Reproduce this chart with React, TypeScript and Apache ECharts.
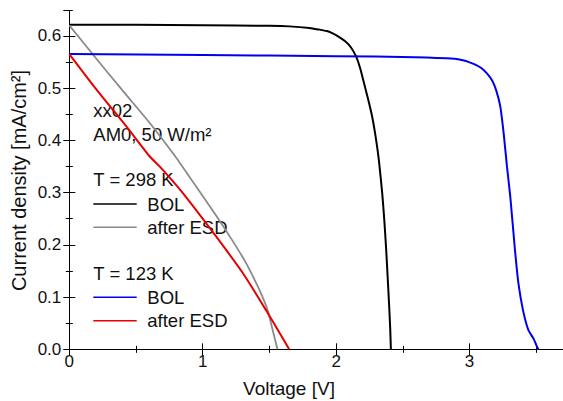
import React, { useEffect, useRef } from "react";
import * as echarts from "echarts";

// T = 298 K, BOL
const voltage298BOL = [0, 0.5, 1.0, 1.5, 1.65, 1.8, 1.87, 1.93, 1.97, 2.02, 2.07, 2.11, 2.15, 2.18, 2.21, 2.24, 2.27, 2.3, 2.32, 2.345, 2.36, 2.375, 2.395, 2.405, 2.41];
const current298BOL = [0.621, 0.621, 0.620, 0.619, 0.618, 0.615, 0.612, 0.609, 0.605, 0.598, 0.589, 0.578, 0.560, 0.538, 0.508, 0.478, 0.445, 0.400, 0.362, 0.299, 0.250, 0.190, 0.094, 0.040, 0.0];

// T = 298 K, after ESD
const voltage298ESD = [0, 0.2, 0.4, 0.6, 0.8, 0.93, 1.1, 1.225, 1.325, 1.424, 1.486, 1.524, 1.56];
const current298ESD = [0.620, 0.557, 0.495, 0.434, 0.367, 0.319, 0.256, 0.207, 0.165, 0.114, 0.075, 0.037, 0.0];

// T = 123 K, BOL
const voltage123BOL = [0, 1.0, 2.0, 2.59, 2.89, 2.95, 3.0, 3.05, 3.09, 3.13, 3.17, 3.20, 3.23, 3.255, 3.28, 3.305, 3.34, 3.366, 3.40, 3.44, 3.48, 3.50, 3.515];
const current123BOL = [0.565, 0.563, 0.561, 0.559, 0.556, 0.553, 0.549, 0.544, 0.538, 0.528, 0.514, 0.495, 0.465, 0.414, 0.350, 0.292, 0.190, 0.126, 0.075, 0.037, 0.020, 0.008, 0.0];

// T = 123 K, after ESD
const voltage123ESD = [0, 0.204, 0.429, 0.603, 0.677, 0.851, 1.10, 1.30, 1.474, 1.648];
const current123ESD = [0.565, 0.497, 0.426, 0.369, 0.350, 0.299, 0.216, 0.146, 0.075, 0.0];

const xTickLabels = ["0", "1", "2", "3"];
const yTickLabels = ["0.0", "0.1", "0.2", "0.3", "0.4", "0.5", "0.6"];

const annotationLines = ["xx02", "AM0, 50 W/m²"];
const groupTitles = ["T = 298 K", "T = 123 K"];
const legendNames = ["BOL", "after ESD"];

const X_MAX = 3.7;
const Y_MAX = 0.648;
const FONT = "'Liberation Sans', Arial, sans-serif";
const TEXT_COLOR = "#111";

const COLORS = { black: "#000000", gray: "#8a8a8a", blue: "#0000f0", red: "#e60000" };

function pairs(xs: number[], ys: number[]) {
  return xs.map((x, i) => [x, ys[i]]);
}

export default function App() {
  const ref = useRef<HTMLDivElement>(null);
  useEffect(() => {
    if (!ref.current) return;
    const chart = echarts.init(ref.current, null, { renderer: "svg" });

    const axisLine = { show: true, lineStyle: { color: "#000", width: 1 } };
    const tickStyle = { color: "#000", width: 1 };
    const mkX = (position: string, interval: number, len: number, labels: boolean) => ({
      type: "value",
      position,
      min: 0,
      max: X_MAX,
      interval,
      axisLine,
      splitLine: { show: false },
      axisTick: { show: true, inside: true, length: len, lineStyle: tickStyle },
      axisLabel: labels
        ? {
            show: true,
            showMaxLabel: false,
            margin: 4,
            fontSize: 17,
            fontFamily: FONT,
            color: TEXT_COLOR,
            formatter: (v: number) => xTickLabels[Math.round(v)] ?? "",
          }
        : { show: false },
    });
    const mkY = (position: string, interval: number, len: number, labels: boolean) => ({
      type: "value",
      position,
      min: 0,
      max: Y_MAX,
      interval,
      axisLine,
      splitLine: { show: false },
      axisTick: { show: true, inside: true, length: len, lineStyle: tickStyle },
      axisLabel: labels
        ? {
            show: true,
            showMaxLabel: false,
            margin: 8,
            fontSize: 17,
            fontFamily: FONT,
            color: TEXT_COLOR,
            formatter: (v: number) => yTickLabels[Math.round(v * 10)] ?? "",
          }
        : { show: false },
    });

    const left = 93.3;
    const lineEnd = 136.7;
    const textX = 147.3;
    const txt = (text: string, x: number, y: number, size = 18.5) => ({
      type: "text",
      x,
      y,
      style: { text, fontSize: size, fontFamily: FONT, fill: TEXT_COLOR, align: "left", verticalAlign: "middle" },
    });
    const seg = (y: number, color: string) => ({
      type: "line",
      shape: { x1: left, y1: y, x2: lineEnd, y2: y },
      style: { stroke: color, lineWidth: 1.5 },
    });

    const graphic = [
      txt(annotationLines[0], left, 110.7),
      txt(annotationLines[1], left, 134),
      txt(groupTitles[0], left, 179.3),
      seg(204, COLORS.black),
      txt(legendNames[0], textX, 204),
      seg(227.3, COLORS.gray),
      txt(legendNames[1], textX, 227.3),
      txt(groupTitles[1], left, 273.3),
      seg(297.3, COLORS.blue),
      txt(legendNames[0], textX, 297.3),
      seg(320.7, COLORS.red),
      txt(legendNames[1], textX, 320.7),
      {
        type: "text",
        x: 289,
        y: 388,
        style: { text: "Voltage [V]", fontSize: 19, fontFamily: FONT, fill: TEXT_COLOR, align: "center", verticalAlign: "middle" },
      },
      {
        type: "text",
        x: 19,
        y: 180.5,
        rotation: Math.PI / 2,
        style: { text: "Current density [mA/cm²]", fontSize: 20, fontFamily: FONT, fill: TEXT_COLOR, align: "center", verticalAlign: "middle" },
      },
    ];

    const line = (name: string, data: number[][], color: string, width = 2) => ({
      name,
      type: "line",
      data,
      showSymbol: false,
      symbol: "none",
      smooth: 0.2,
      xAxisIndex: 0,
      yAxisIndex: 0,
      lineStyle: { color, width },
      itemStyle: { color },
      z: 3,
    });

    chart.setOption({
      animation: false,
      backgroundColor: "#ffffff",
      grid: { left: 69.3, right: -2, top: 10.7, bottom: 51.7, containLabel: false },
      xAxis: [mkX("bottom", 1, 6, true), mkX("bottom", 0.5, 3.5, false), mkX("top", 1, 6, false), mkX("top", 0.5, 3.5, false)],
      yAxis: [mkY("left", 0.1, 6, true), mkY("left", 0.05, 3.5, false), mkY("right", 0.1, 6, false), mkY("right", 0.05, 3.5, false)],
      series: [
        line("298 K BOL", pairs(voltage298BOL, current298BOL), COLORS.black),
        line("298 K after ESD", pairs(voltage298ESD, current298ESD), COLORS.gray, 1.8),
        line("123 K BOL", pairs(voltage123BOL, current123BOL), COLORS.blue),
        line("123 K after ESD", pairs(voltage123ESD, current123ESD), COLORS.red),
      ],
      graphic,
    });
    return () => chart.dispose();
  }, []);
  return <div ref={ref} style={{ position: "fixed", left: 0, top: 0, width: 563, height: 401 }} />;
}
